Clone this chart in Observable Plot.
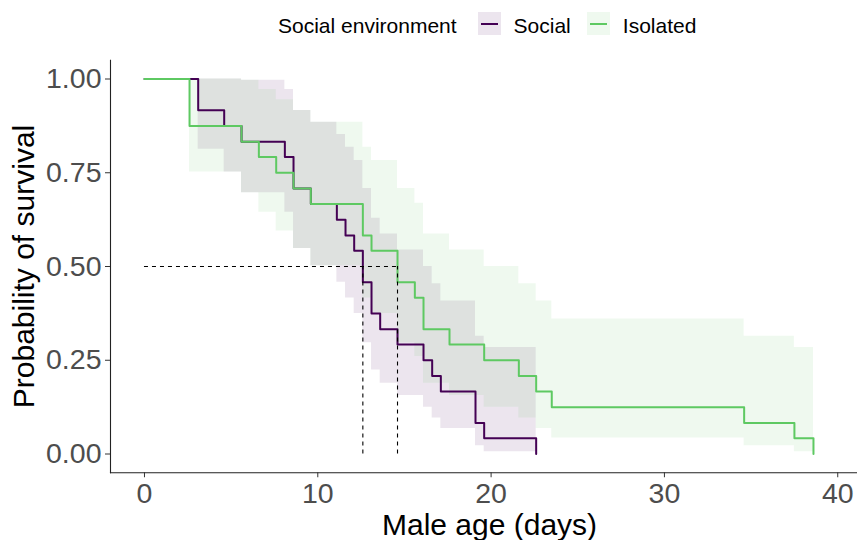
<!DOCTYPE html>
<html>
<head>
<meta charset="utf-8">
<script src="https://cdn.jsdelivr.net/npm/d3@7"></script>
<script src="https://cdn.jsdelivr.net/npm/@observablehq/plot@0.6"></script>
<style>
  html, body { margin: 0; padding: 0; background: #fff; }
  body { width: 857px; height: 540px; overflow: hidden; font-family: "Liberation Sans", Arial, sans-serif; }
  #legend { height: 45px; box-sizing: border-box; padding-left: 278px; padding-top: 6px; display: flex; align-items: center; font-size: 21px; color: #000; }
  .key { width: 23px; height: 23px; position: relative; top: -2px; display: inline-block; }
  .key i { position: absolute; left: 3px; right: 3px; top: 10.5px; height: 2px; display: block; }
</style>
</head>
<body>
<div id="legend"></div>
<div id="chart"></div>
<script>
// ---- data ----
const groups = ["Social", "Isolated"];
const groupColors = ["#440154", "#5ec962"];
const legendTitle = "Social environment";

const socialTime  = [0, 3.1, 4.6, 5.6, 8.1, 8.6, 9.6, 11.1, 11.6, 12.1, 12.6, 13.1, 13.6, 14.6, 16.1, 16.6, 17.1, 19.1, 19.6, 22.6];
const socialSurv  = [1, 0.917, 0.875, 0.833, 0.792, 0.708, 0.667, 0.625, 0.583, 0.542, 0.458, 0.375, 0.333, 0.292, 0.25, 0.208, 0.167, 0.083, 0.042, 0];
const socialLower = [1, 0.813, 0.752, 0.697, 0.645, 0.548, 0.502, 0.458, 0.416, 0.375, 0.297, 0.224, 0.189, 0.156, 0.125, 0.096, 0.068, 0.022, 0.006, 0.006];
const socialUpper = [1, 1, 1, 0.997, 0.972, 0.916, 0.885, 0.852, 0.818, 0.783, 0.708, 0.629, 0.587, 0.544, 0.5, 0.454, 0.408, 0.314, 0.284, 0.284];

const isolatedTime  = [0, 2.6, 5.6, 6.6, 7.6, 8.6, 9.6, 12.6, 13.1, 14.6, 15.6, 16.1, 17.6, 19.6, 21.6, 22.6, 23.5, 34.6, 37.5, 38.6];
const isolatedSurv  = [1, 0.875, 0.833, 0.792, 0.75, 0.708, 0.667, 0.583, 0.542, 0.458, 0.417, 0.333, 0.292, 0.25, 0.208, 0.167, 0.125, 0.083, 0.042, 0];
const isolatedLower = [1, 0.752, 0.697, 0.645, 0.595, 0.548, 0.502, 0.416, 0.375, 0.297, 0.26, 0.189, 0.156, 0.125, 0.096, 0.068, 0.043, 0.022, 0.006, 0.006];
const isolatedUpper = [1, 1, 0.997, 0.972, 0.945, 0.916, 0.885, 0.818, 0.783, 0.708, 0.669, 0.587, 0.544, 0.5, 0.454, 0.408, 0.36, 0.314, 0.284, 0.284];

const medianTimes = [12.6, 14.6];
const medianLevel = 0.5;

const xTicks = [0, 10, 20, 30, 40];
const yTicks = [0, 0.25, 0.5, 0.75, 1];
const xTitle = "Male age (days)";
const yTitle = "Probability of survival";

// ---- build tables ----
const rows = (group, t, s, lo, hi) => t.map((d, i) => ({group, time: d, surv: s[i], lower: lo[i], upper: hi[i]}));
const social = rows("Social", socialTime, socialSurv, socialLower, socialUpper);
const isolated = rows("Isolated", isolatedTime, isolatedSurv, isolatedLower, isolatedUpper);

// ---- legend (HTML, above the svg) ----
const legend = document.getElementById("legend");
const title = document.createElement("span");
title.textContent = legendTitle;
title.style.marginRight = "21px";
legend.appendChild(title);
groups.forEach((g, i) => {
  const key = document.createElement("span");
  key.className = "key";
  const c = d3.color(groupColors[i]);
  key.style.background = `rgba(${c.r},${c.g},${c.b},0.1)`;
  const ln = document.createElement("i");
  ln.style.background = groupColors[i];
  key.appendChild(ln);
  legend.appendChild(key);
  const lab = document.createElement("span");
  lab.textContent = g;
  lab.style.marginLeft = "13px";
  lab.style.marginRight = i === 0 ? "16px" : "0";
  legend.appendChild(lab);
});

// ---- chart ----
const chart = Plot.plot({
  width: 857,
  height: 495,
  marginLeft: 110,
  marginRight: 0,
  marginTop: 14.75,
  marginBottom: 67.75,
  style: {fontFamily: "'Liberation Sans', Arial, sans-serif", background: "#fff", overflow: "visible"},
  x: {domain: [-1.96, 41.14]},
  y: {domain: [-0.05, 1.05]},
  color: {domain: groups, range: groupColors},
  marks: [
    Plot.areaY(social, {x: "time", y1: "lower", y2: "upper", curve: "step-after", fill: "group", fillOpacity: 0.1}),
    Plot.areaY(isolated, {x: "time", y1: "lower", y2: "upper", curve: "step-after", fill: "group", fillOpacity: 0.1}),
    Plot.lineY(social, {x: "time", y: "surv", curve: "step-after", stroke: "group", strokeWidth: 2}),
    Plot.lineY(isolated, {x: "time", y: "surv", curve: "step-after", stroke: "group", strokeWidth: 2}),
    Plot.ruleY([medianLevel], {y: d => d, x1: 0, x2: d3.max(medianTimes), stroke: "#000", strokeWidth: 1.1, strokeDasharray: "4,4"}),
    Plot.ruleX(medianTimes, {x: d => d, y1: 0, y2: medianLevel, stroke: "#000", strokeWidth: 1.1, strokeDasharray: "4,4"}),
    Plot.frame({anchor: "bottom", stroke: "#222", strokeWidth: 1.1}),
    Plot.frame({anchor: "left", stroke: "#222", strokeWidth: 1.1}),
    Plot.axisX({ticks: xTicks, tickSize: 5, tickPadding: 5, fontSize: 28.5, stroke: "#333", fill: "#4d4d4d", label: null}),
    Plot.axisY({ticks: yTicks, tickSize: 5, tickPadding: 4, fontSize: 28.5, stroke: "#333", fill: "#4d4d4d", tickFormat: d3.format(".2f"), label: null}),
    Plot.text([yTitle], {text: d => d, frameAnchor: "left", textAnchor: "middle", lineAnchor: "middle", rotate: -90, dx: -86, fontSize: 30, fill: "#000"}),
    Plot.text([xTitle], {text: d => d, frameAnchor: "bottom", textAnchor: "middle", lineAnchor: "middle", dx: 5.5, dy: 53, fontSize: 30, fill: "#000"})
  ]
});
document.getElementById("chart").appendChild(chart);
</script>
</body>
</html>
